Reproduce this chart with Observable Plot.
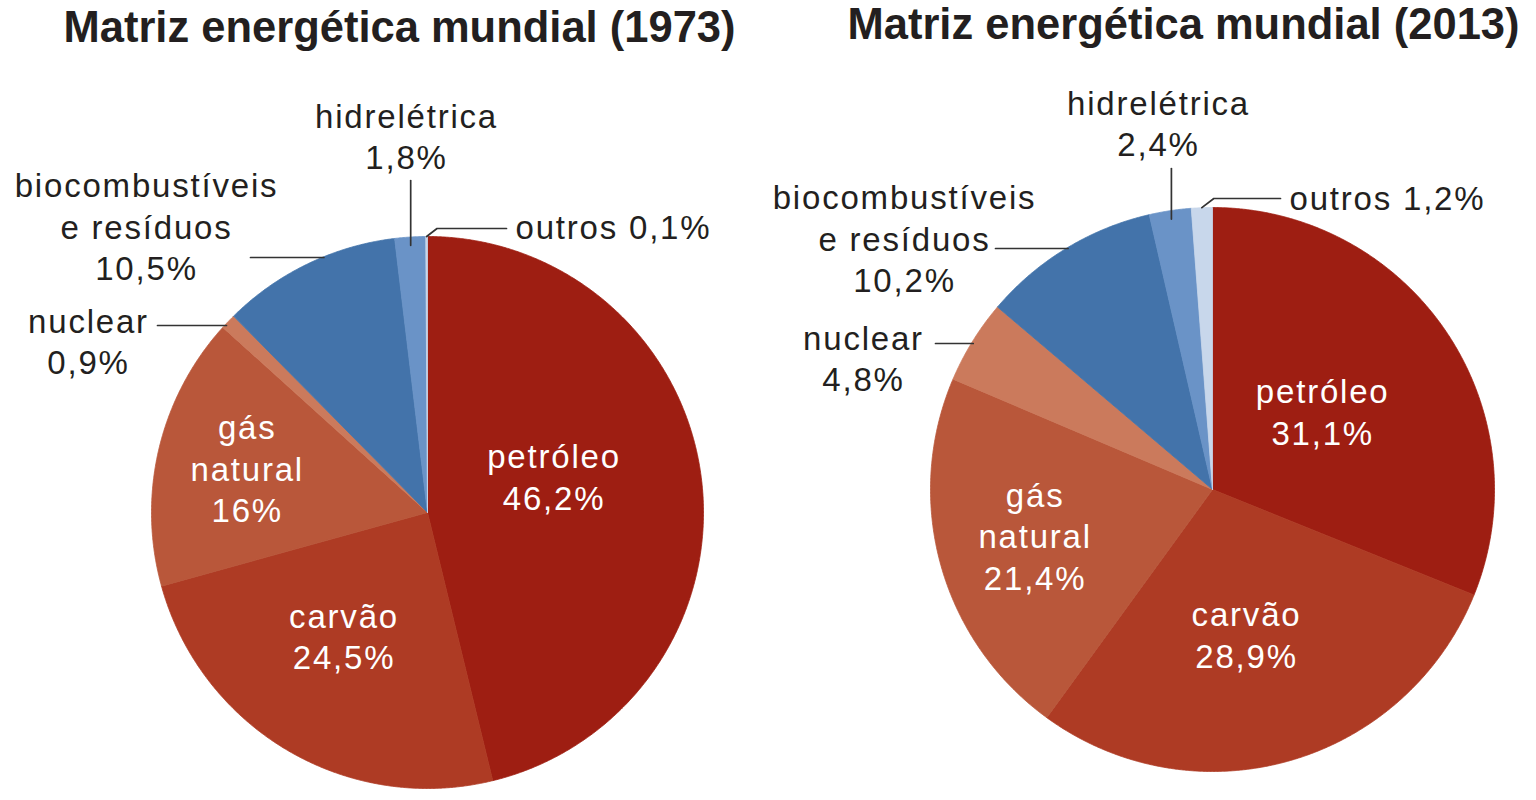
<!DOCTYPE html>
<html><head><meta charset="utf-8">
<script src="https://cdn.jsdelivr.net/npm/d3@7"></script>
<script src="https://cdn.jsdelivr.net/npm/@observablehq/plot@0.6"></script>
<style>
body{margin:0;background:#fff}
</style>
</head><body><div id="chart"></div>
<script>
// ---------- DATA ----------
const categories = ["petróleo","carvão","gás natural","nuclear","biocombustíveis e resíduos","hidrelétrica","outros"];
const years = ["1973","2013"];
const values1973 = [46.2, 24.5, 16, 0.9, 10.5, 1.8, 0.1];
const values2013 = [31.1, 28.9, 21.4, 4.8, 10.2, 2.4, 1.2];
const titles = ["Matriz energética mundial (1973)", "Matriz energética mundial (2013)"];
const labelLines = [["petróleo"],["carvão"],["gás","natural"],["nuclear"],["biocombustíveis","e resíduos"],["hidrelétrica"],["outros"]];

// ---------- STYLE / LAYOUT ----------
const colors = ["#9e1e12","#ae3b24","#b9573a","#cb7a5c","#4373aa","#6a93c7","#c8d7eb"];
const pies = {
  "1973": {cx: 427, cy: 512, r: 276, title: [399, 28]},
  "2013": {cx: 1212, cy: 489, r: 282, title: [1183, 25]}
};
const innerK = {"petróleo": 0.48, "carvão": 0.54, "gás natural": 0.66};
const innerShift = {"1973|petróleo": [-5, -21], "1973|carvão": [-8, -6], "2013|carvão": [-8, -2], "2013|gás natural": [2, -4], "2013|petróleo": [-2, -3], "1973|gás natural": [-3, -3]};
const outerLayout = {
  "1973": {
    "nuclear": {tx: 88, ty: 340, anchor: "middle", lead: "h", level: 325, to: 157},
    "biocombustíveis e resíduos": {tx: 146, ty: 225, anchor: "middle", lead: "h", level: 257, to: 250},
    "hidrelétrica": {tx: 406, ty: 135, anchor: "middle", lead: "v", to: 180},
    "outros": {tx: 515, ty: 225, anchor: "start", lead: "elbow", level: 228, to: 506}
  },
  "2013": {
    "nuclear": {tx: 863, ty: 357, anchor: "middle", lead: "h", level: 343, to: 935},
    "biocombustíveis e resíduos": {tx: 904, ty: 237, anchor: "middle", lead: "h", level: 248, to: 995},
    "hidrelétrica": {tx: 1158, ty: 122, anchor: "middle", lead: "v", to: 168},
    "outros": {tx: 1289, ty: 196, anchor: "start", lead: "elbow", level: 198, to: 1280}
  }
};

// ---------- GEOMETRY FROM DATA ----------
const fmt = v => String(v).replace(".", ",") + "%";
const valuesByYear = {"1973": values1973, "2013": values2013};
const slicePts = [], leaderPts = [], innerText = [], outerText = [];

for (const year of years) {
  const P = pies[year];
  const vals = valuesByYear[year];
  const arcs = d3.pie().sort(null).value(d => d)(vals);
  const pt = (a, rr) => ({x: P.cx + rr * Math.sin(a), y: P.cy - rr * Math.cos(a)});
  arcs.forEach((arc, i) => {
    const cat = categories[i];
    const key = year + "|" + cat;
    slicePts.push({key, cat, x: P.cx, y: P.cy});
    const n = Math.max(2, Math.ceil((arc.endAngle - arc.startAngle) / 0.005));
    for (let k = 0; k <= n; k++) {
      const a = arc.startAngle + (arc.endAngle - arc.startAngle) * k / n;
      const p = pt(a, P.r);
      slicePts.push({key, cat, x: p.x, y: p.y});
    }
    slicePts.push({key, cat, x: P.cx, y: P.cy});
    const mid = (arc.startAngle + arc.endAngle) / 2;
    if (innerK[cat] !== undefined) {
      const p = pt(mid, P.r * innerK[cat]);
      const s = innerShift[key] || [0, 0];
      innerText.push({x: p.x + s[0], y: p.y + s[1], text: [...labelLines[i], fmt(vals[i])].join("\n")});
    } else {
      const L = outerLayout[year][cat];
      const text = cat === "outros" ? labelLines[i][0] + " " + fmt(vals[i]) : [...labelLines[i], fmt(vals[i])].join("\n");
      outerText.push({x: L.tx, y: L.ty, text, anchor: L.anchor});
      const s = pt(mid, P.r);
      const lk = "lead|" + key;
      if (L.lead === "h") {
        // start where the horizontal leader meets the pie's edge
        const dy = L.level - P.cy;
        const sx = P.cx - Math.sqrt(P.r * P.r - dy * dy) + 2;
        leaderPts.push({key: lk, x: sx, y: L.level}, {key: lk, x: L.to, y: L.level});
      } else if (L.lead === "v") {
        const s2 = pt(mid, P.r * 0.97);
        leaderPts.push({key: lk, x: s2.x, y: s2.y}, {key: lk, x: s2.x, y: L.to});
      } else {
        leaderPts.push({key: lk, x: s.x, y: s.y}, {key: lk, x: s.x + (s.y - L.level) * 1.3, y: L.level}, {key: lk, x: L.to, y: L.level});
      }
    }
  });
}
const titleData = years.map((y, i) => ({x: pies[y].title[0], y: pies[y].title[1], text: titles[i]}));

const labelFont = "'Liberation Sans', Arial, sans-serif";
const textOpts = {x: "x", y: "y", text: "text", fontSize: 33, lineHeight: 1.25, fontFamily: labelFont};

const chart = Plot.plot({
  width: 1536, height: 800, margin: 0,
  x: {domain: [0, 1536], axis: null},
  y: {domain: [0, 800], range: [0, 800], axis: null},
  color: {domain: categories, range: colors},
  marks: [
    Plot.line(slicePts, {x: "x", y: "y", z: "key", fill: "cat", stroke: "cat", strokeWidth: 0.8, curve: "linear"}),
    Plot.line(leaderPts, {x: "x", y: "y", z: "key", stroke: "#333", strokeWidth: 1.7}),
    Plot.text(outerText.filter(d => d.anchor === "middle"), {...textOpts, textAnchor: "middle", fill: "#231f20"}),
    Plot.text(outerText.filter(d => d.anchor === "start"), {...textOpts, textAnchor: "start", fill: "#231f20"}),
    Plot.text(innerText, {...textOpts, textAnchor: "middle", fill: "white"}),
    Plot.text(titleData, {x: "x", y: "y", text: "text", fontSize: 43.5, fontWeight: "bold", fill: "#231f20", fontFamily: labelFont})
  ]
});
d3.select(chart).selectAll("g[font-size='33']").attr("letter-spacing", "1.8px");
document.getElementById("chart").appendChild(chart);
</script>
</body></html>
